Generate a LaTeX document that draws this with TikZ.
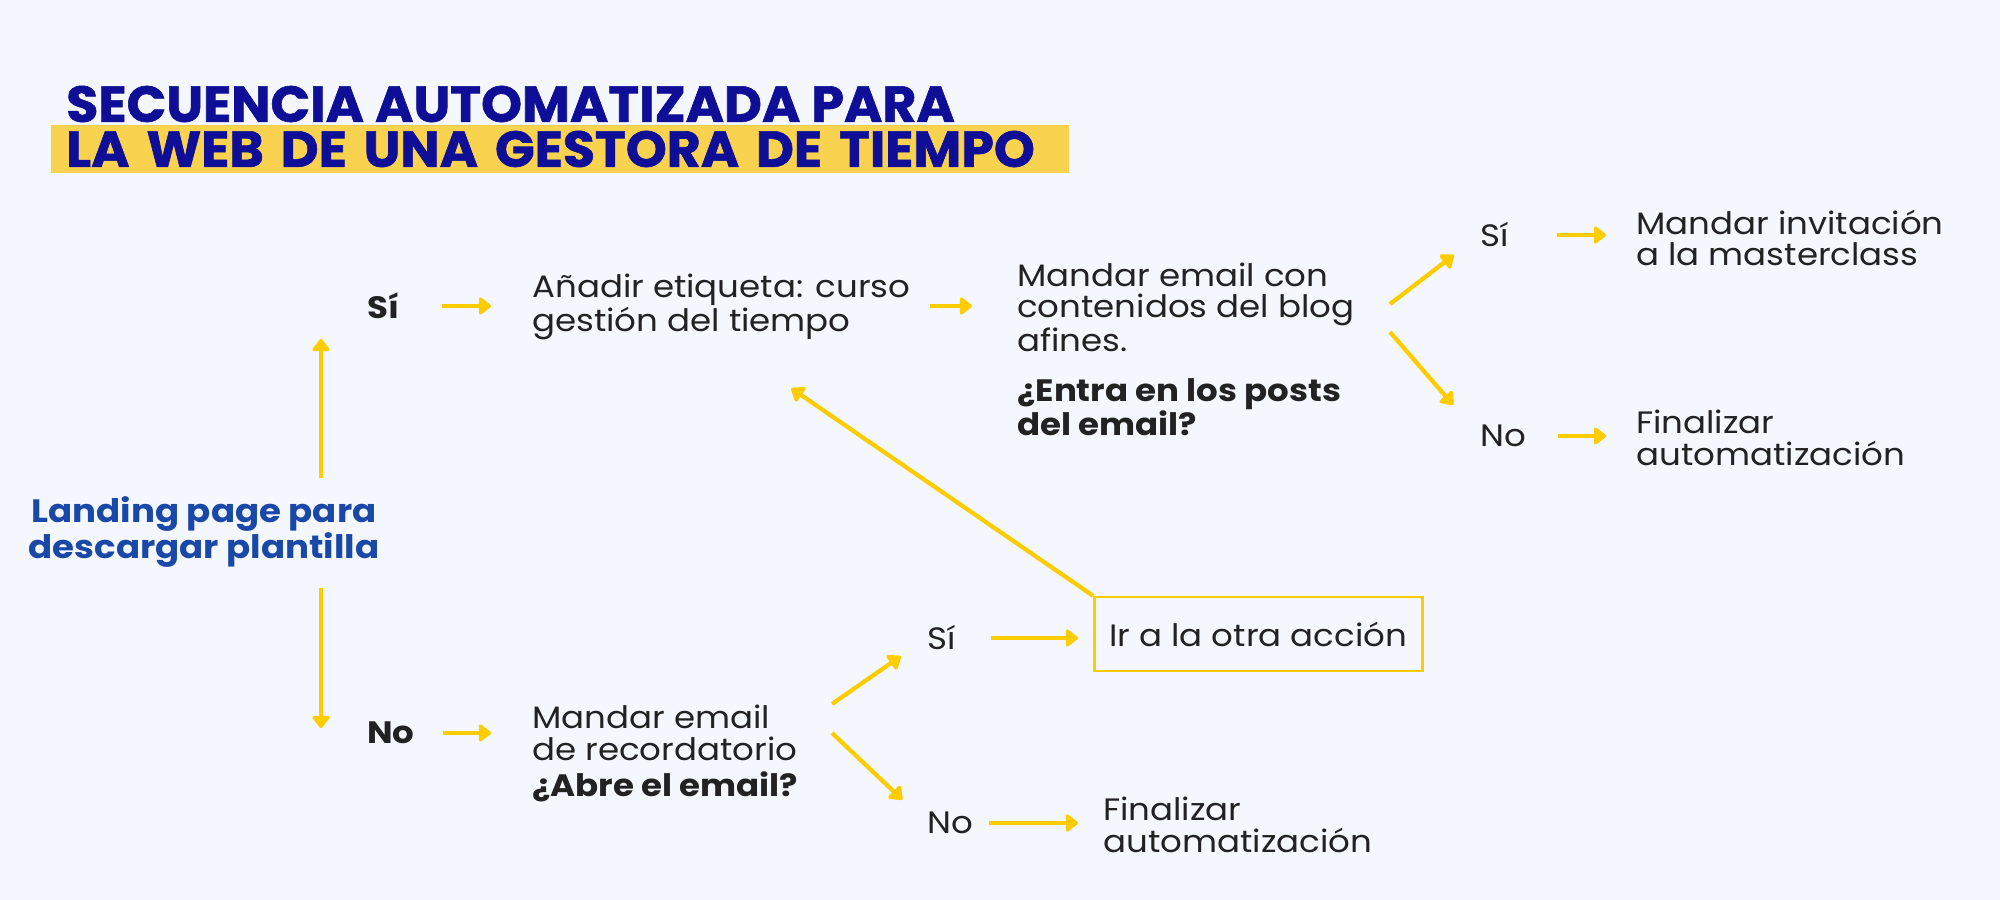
\documentclass[tikz,border=0pt]{standalone}
\usepackage{fontspec}
\setmainfont{Poppins}[FakeStretch=1.1]
\newfontfamily\headfont{Poppins}[FakeStretch=1.03, BoldFeatures={FakeBold=1.2}]
\usetikzlibrary{arrows.meta}
\definecolor{bg}{HTML}{F4F7FE}
\definecolor{navy}{HTML}{0E0E96}
\definecolor{leadblue}{HTML}{1948A8}
\definecolor{gold}{HTML}{FFCC00}
\definecolor{band}{HTML}{F9D250}
\definecolor{ink}{HTML}{222222}
\newdimen\unitpx \unitpx=0.025cm
\tikzset{
  txt/.style={anchor=west, align=left, inner sep=0pt, text=ink, font=\fontsize{22}{22.6}\selectfont},
  ans/.style={txt, font=\fontsize{22}{22.6}\selectfont\bfseries},
  heading/.style={anchor=west, inner sep=0pt, text=navy, font=\headfont\fontsize{36}{40}\selectfont\bfseries},
  arr/.style={draw=gold, line width=3pt, -{Triangle[round, length=9.5pt, width=14pt]}},
}
\begin{document}
\begin{tikzpicture}[x=0.025cm, y=-0.025cm]
\fill[bg] (0,0) rectangle (2000,900);
\useasboundingbox (0,0) rectangle (2000,900);
% title
\node[heading] (title1) at (66,104) {SECUENCIA AUTOMATIZADA PARA};
\node[heading, fill=band, inner xsep=15\unitpx, text width=988\unitpx, minimum height=48\unitpx, align=left] (title2) at (51,149) {LA WEB DE UNA GESTORA DE TIEMPO};
% start
\node[align=center, inner sep=0pt, text=leadblue, font=\fontsize{23}{24.2}\selectfont\bfseries] (land) at (204,532) {Landing page para\\descargar plantilla};
\coordinate (split) at (321,532);
% upper branch
\node[ans] (si1) at (367,306) {Sí};
\node[txt] (tag) at (532,307) {Añadir etiqueta: curso\\gestión del tiempo};
\node[txt] (blog) at (1017,307) {Mandar email con\\contenidos del blog\\afines.};
\node[ans] (posts) at (1017,407) {¿Entra en los posts\\del email?};
\node[txt] (si2) at (1480,235) {Sí};
\node[txt] (invite) at (1636,238) {Mandar invitación\\a la masterclass};
\node[txt] (no2) at (1480,436) {No};
\node[txt] (end1) at (1636,438) {Finalizar\\automatización};
\coordinate (b1) at (1390,304);
\coordinate (b2) at (1390,332);
% lower branch
\node[ans] (no1) at (367,733) {No};
\node[txt] (remind) at (532,733) {Mandar email\\de recordatorio};
\node[ans] (opens) at (532,787) {¿Abre el email?};
\node[txt] (si3) at (927,638) {Sí};
\node[txt, draw=gold, line width=1.8pt, minimum width=328\unitpx, minimum height=74\unitpx] (other) at (1093,634) {Ir a la otra acción};
\node[txt] (no3) at (927,823) {No};
\node[txt] (end2) at (1103,825) {Finalizar\\automatización};
\coordinate (r1) at (832,704);
\coordinate (r2) at (832,733);
% connectors
\draw[arr, shorten <=54\unitpx, shorten >=33\unitpx] (split) -- (split |- si1);
\draw[arr, shorten <=56\unitpx, shorten >=5\unitpx] (split) -- (split |- no1);
\draw[arr, shorten <=43\unitpx, shorten >=41\unitpx] (si1.east) -- (si1.east -| tag.west);
\draw[arr, shorten <=19\unitpx, shorten >=45\unitpx] (tag.east |- si1) -- (si1 -| blog.west);
\draw[arr, shorten >=33\unitpx] (b1) -- (si2.west);
\draw[arr, shorten >=41\unitpx] (b2) -- (no2.west);
\draw[arr, shorten <=48\unitpx, shorten >=30\unitpx] (si2.east) -- (si2.east -| invite.west);
\draw[arr, shorten <=32\unitpx, shorten >=30\unitpx] (no2.east) -- (no2.east -| end1.west);
\draw[arr, shorten <=28\unitpx, shorten >=41\unitpx] (no1.east) -- (no1.east -| remind.west);
\draw[arr, shorten >=32\unitpx] (r1) -- (si3.west);
\draw[arr, shorten >=34\unitpx] (r2) -- (no3.west);
\draw[arr, shorten <=35\unitpx, shorten >=15\unitpx] (si3.east) -- (si3.east -| other.west);
\draw[arr, shorten <=16\unitpx, shorten >=25\unitpx] (no3.east) -- (no3.east -| end2.west);
\draw[arr, shorten >=85\unitpx] (other.north west) -- (tag.south);
\end{tikzpicture}
\end{document}
